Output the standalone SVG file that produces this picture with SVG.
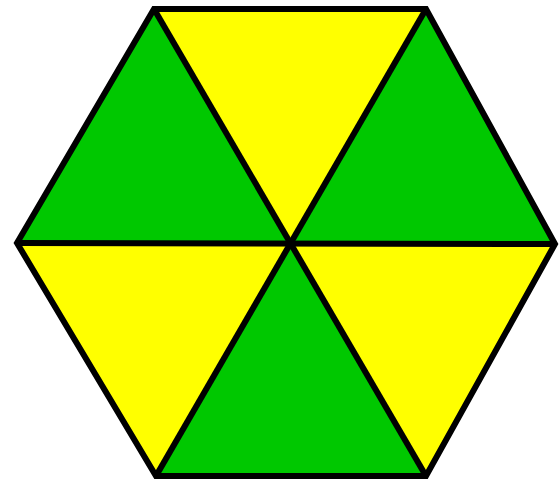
<svg xmlns="http://www.w3.org/2000/svg" width="559" height="482" viewBox="0 0 559 482">
<style>
.g{fill:#00c800}.y{fill:#ffff00}
.s{stroke:#000;stroke-width:6;stroke-linejoin:miter;fill:none}
</style>
<rect width="559" height="482" fill="#fff"/>
<g id="triangles">
<polygon id="t1" class="y" points="154,9 426,9 290,244"/>
<polygon id="t2" class="g" points="426,9 555,244 290,244"/>
<polygon id="t3" class="y" points="555,244 426,476 290,244"/>
<polygon id="t4" class="g" points="426,476 156,476 290,244"/>
<polygon id="t5" class="y" points="156,476 17,243 290,244"/>
<polygon id="t6" class="g" points="17,243 154,9 290,244"/>
</g>
<g id="lines">
<polygon class="s" points="154,9 426,9 555,244 426,476 156,476 17,243"/>
<line class="s" x1="154" y1="9" x2="426" y2="476"/>
<line class="s" x1="426" y1="9" x2="156" y2="476"/>
<line class="s" x1="17" y1="243" x2="555" y2="244"/>
</g>
</svg>
